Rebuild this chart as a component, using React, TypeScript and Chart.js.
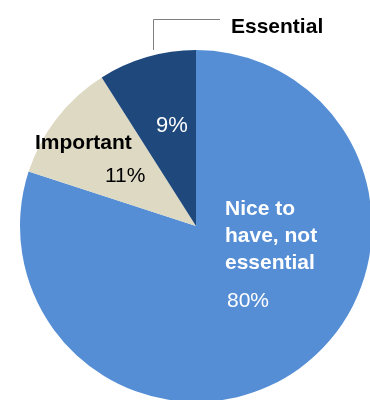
import React, { useEffect, useRef } from "react";
import { Chart, registerables } from "chart.js";

Chart.register(...registerables);

const categories = ["Nice to have, not essential", "Important", "Essential"];
const values = [80, 11, 9];
const valueLabels = ["80%", "11%", "9%"];
const colors = ["#558ED5", "#DDD9C3", "#1F497D"];

const FONT = "'Liberation Sans', Arial, sans-serif";

const labelPlugin = {
  id: "pieLabels",
  afterDraw(chart: any) {
    const ctx = chart.ctx;
    ctx.save();
    ctx.textAlign = "left";
    ctx.textBaseline = "alphabetic";

    // leader line for Essential
    ctx.strokeStyle = "#7f7f7f";
    ctx.lineWidth = 1;
    ctx.beginPath();
    ctx.moveTo(153.5, 50);
    ctx.lineTo(153.5, 19.5);
    ctx.lineTo(220, 19.5);
    ctx.stroke();

    // Essential
    ctx.fillStyle = "#000";
    ctx.font = `bold 21px ${FONT}`;
    ctx.fillText(categories[2], 231, 33);
    ctx.fillStyle = "#fff";
    ctx.font = `22px ${FONT}`;
    ctx.fillText(valueLabels[2], 156, 132);

    // Important
    ctx.fillStyle = "#000";
    ctx.font = `bold 21px ${FONT}`;
    ctx.fillText(categories[1], 35, 149);
    ctx.font = `21px ${FONT}`;
    ctx.fillText(valueLabels[1], 105, 182);

    // Nice to have
    ctx.fillStyle = "#fff";
    ctx.font = `bold 21px ${FONT}`;
    const lines = ["Nice to", "have, not", "essential"];
    lines.forEach((l, i) => ctx.fillText(l, 225, 215 + i * 27));
    ctx.font = `21px ${FONT}`;
    ctx.fillText(valueLabels[0], 227, 307);
    ctx.restore();
  },
};

export default function App() {
  const ref = useRef<HTMLCanvasElement>(null);
  useEffect(() => {
    if (!ref.current) return;
    const chart = new Chart(ref.current, {
      type: "pie",
      data: {
        labels: categories,
        datasets: [
          {
            data: values,
            backgroundColor: colors,
            borderWidth: 0,
            hoverOffset: 0,
            offset: 0,
          },
        ],
      },
      options: {
        responsive: false,
        animation: false,
        devicePixelRatio: 1,
        events: [],
        layout: { padding: { left: 20, top: 50, right: 28, bottom: 18 } },
        plugins: {
          legend: { display: false },
          tooltip: { enabled: false },
        },
      },
      plugins: [labelPlugin],
    });
    return () => chart.destroy();
  }, []);
  return (
    <div
      style={{
        position: "fixed",
        left: 0,
        top: 0,
        width: 370,
        height: 400,
        overflow: "hidden",
        background: "#fff",
      }}
    >
      <canvas ref={ref} width={400} height={420} style={{ display: "block" }} />
    </div>
  );
}
